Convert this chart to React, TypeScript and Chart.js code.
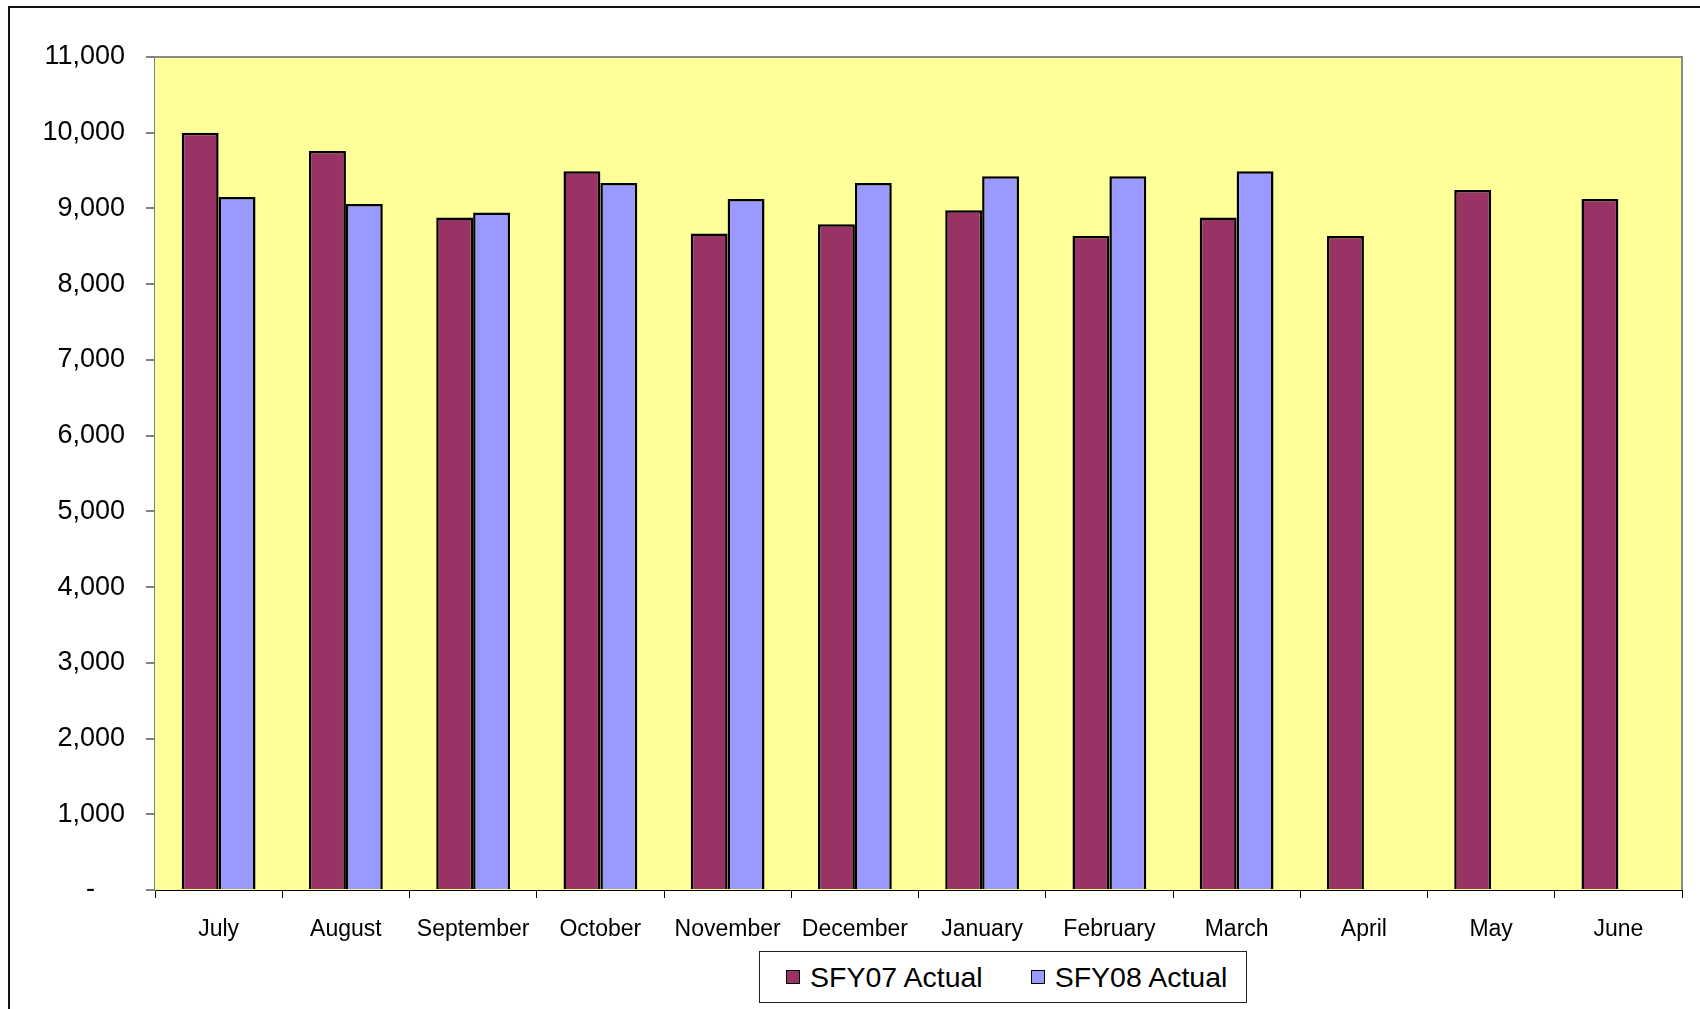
import React, { useEffect, useRef } from "react";
import { Chart, registerables } from "chart.js";

Chart.register(...registerables);

const months = ["July", "August", "September", "October", "November", "December", "January", "February", "March", "April", "May", "June"];
const seriesNames = ["SFY07 Actual", "SFY08 Actual"];
const sfy07 = [10000, 9760, 8880, 9490, 8670, 8790, 8975, 8635, 8880, 8635, 9245, 9125];
const sfy08: (number | null)[] = [9150, 9060, 8945, 9335, 9125, 9335, 9425, 9425, 9490, null, null, null];
const seriesColors = ["#993366", "#9999FF"];
const yMax = 11000;
const yStep = 1000;

const FONT = "'Liberation Sans', Arial, sans-serif";

const plotBg = {
  id: "plotBg",
  beforeDatasetsDraw(chart: any) {
    const { ctx, chartArea } = chart;
    const { left, top, right, bottom } = chartArea;
    ctx.save();
    ctx.fillStyle = "#FFFF99";
    ctx.fillRect(left, top, right - left, bottom - top);
    ctx.strokeStyle = "#8a8a8a";
    ctx.lineWidth = 2;
    ctx.beginPath();
    ctx.moveTo(left, top);
    ctx.lineTo(right, top);
    ctx.lineTo(right, bottom);
    ctx.stroke();
    ctx.restore();
  },
};

export default function App() {
  const ref = useRef<HTMLCanvasElement | null>(null);

  useEffect(() => {
    if (!ref.current) return;
    const chart = new Chart(ref.current, {
      type: "bar",
      data: {
        labels: months,
        datasets: [
          {
            label: seriesNames[0],
            data: sfy07,
            backgroundColor: seriesColors[0],
            borderColor: "#000",
            borderWidth: 2.5,
          },
          {
            label: seriesNames[1],
            data: sfy08,
            backgroundColor: seriesColors[1],
            borderColor: "#000",
            borderWidth: 2.5,
          },
        ],
      },
      options: {
        responsive: false,
        animation: false,
        devicePixelRatio: 1,
        layout: { padding: { left: 0, top: 57, right: 18, bottom: 59 } },
        datasets: {
          bar: { categoryPercentage: 0.58, barPercentage: 1.0 },
        },
        plugins: {
          legend: { display: false },
          title: { display: false },
          tooltip: { enabled: false },
        },
        scales: {
          x: {
            afterFit: (s: any) => {
              s.height = 60;
            },
            grid: {
              display: true,
              offset: true,
              drawOnChartArea: false,
              drawTicks: true,
              tickLength: 8,
              color: "#000",
              lineWidth: 1,
            },
            border: { display: true, color: "#000", width: 2 },
            ticks: {
              color: "#000",
              padding: 18,
              maxRotation: 0,
              autoSkip: false,
              font: { family: FONT, size: 23 },
            },
          },
          y: {
            min: 0,
            max: yMax,
            afterFit: (s: any) => {
              s.width = 155;
            },
            grid: {
              display: true,
              drawOnChartArea: false,
              drawTicks: true,
              tickLength: 9,
              color: "#808080",
              lineWidth: 2,
            },
            border: { display: true, color: "#808080", width: 2 },
            ticks: {
              stepSize: yStep,
              color: "#000",
              padding: 21,
              font: { family: FONT, size: 27 },
              callback: (v: any) => (Number(v) === 0 ? "-    " : Number(v).toLocaleString("en-US")),
            },
          },
        },
      },
      plugins: [plotBg],
    });
    return () => chart.destroy();
  }, []);

  const swatch = (c: string) => ({
    display: "inline-block",
    width: 12,
    height: 12,
    background: c,
    border: "1.5px solid #000",
    marginRight: 10,
  });

  return (
    <div style={{ position: "fixed", left: 0, top: 0, width: 1700, height: 1009, overflow: "hidden", background: "#fff" }}>
      <div style={{ position: "absolute", left: 8, top: 6, width: 1800, height: 1100, border: "2px solid #111" }} />
      <canvas ref={ref} width={1700} height={1009} style={{ position: "absolute", left: 0, top: 0, width: 1700, height: 1009 }} />
      <div
        style={{
          position: "absolute",
          left: 759,
          top: 951,
          width: 488,
          height: 52,
          border: "1.5px solid #222",
          background: "#fff",
          display: "flex",
          alignItems: "center",
          fontFamily: FONT,
          fontSize: 28.5,
          color: "#000",
          boxSizing: "border-box",
          paddingLeft: 26,
        }}
      >
        <span style={{ display: "flex", alignItems: "center", marginRight: 48 }}>
          <span style={swatch(seriesColors[0])} />
          {seriesNames[0]}
        </span>
        <span style={{ display: "flex", alignItems: "center" }}>
          <span style={swatch(seriesColors[1])} />
          {seriesNames[1]}
        </span>
      </div>
    </div>
  );
}
